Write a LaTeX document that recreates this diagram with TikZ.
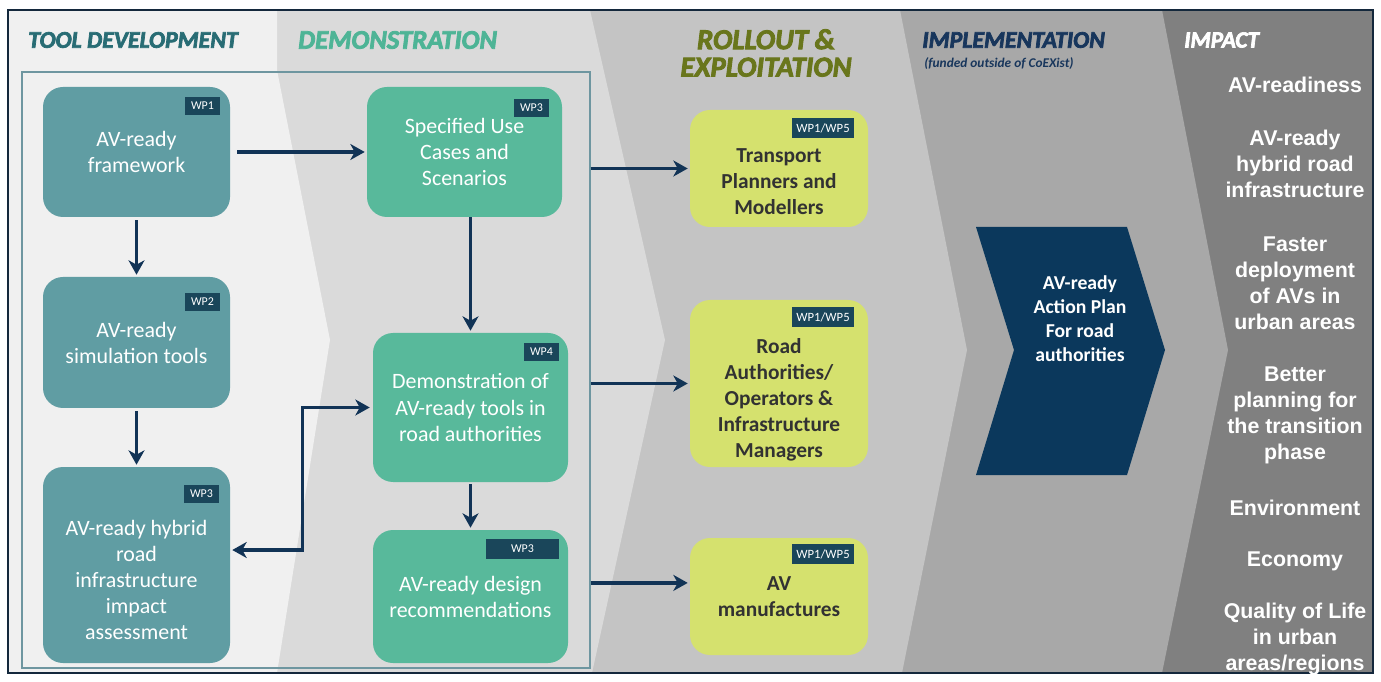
\documentclass[tikz,border=0pt]{standalone}
\usepackage{fontspec}
\setmainfont{Carlito}
\newfontfamily\headfont{Carlito}[FakeBold=3]
\newfontfamily\impactfont{Liberation Sans}
\usetikzlibrary{positioning,arrows.meta}

\definecolor{toolcol}{RGB}{96,157,163}
\definecolor{democol}{RGB}{88,185,155}
\definecolor{rollcol}{RGB}{213,225,110}
\definecolor{tagcol}{RGB}{26,70,90}
\definecolor{arrcol}{RGB}{17,51,86}
\definecolor{plancol}{RGB}{11,56,92}
\definecolor{toolhead}{RGB}{40,108,116}
\definecolor{demohead}{RGB}{78,180,150}
\definecolor{rollhead}{RGB}{105,118,28}
\definecolor{implhead}{RGB}{24,54,92}
\definecolor{rolltext}{RGB}{50,50,50}
\definecolor{bandA}{RGB}{240,240,240}
\definecolor{bandB}{RGB}{218,218,218}
\definecolor{bandC}{RGB}{196,196,196}
\definecolor{bandD}{RGB}{168,168,168}
\definecolor{bandE}{RGB}{128,128,128}
\definecolor{framecol}{RGB}{110,150,160}
\definecolor{bordercol}{RGB}{20,40,60}

\begin{document}
\begin{tikzpicture}[
  tool/.style  = {fill=toolcol, rounded corners=5mm, minimum width=46.75mm, text=white, align=center, font=\fontsize{15.6}{18.5}\selectfont},
  demo/.style  = {fill=democol, rounded corners=5mm, minimum width=48.75mm, text=white, align=center, font=\fontsize{15.6}{18.5}\selectfont},
  roll/.style  = {fill=rollcol, rounded corners=5mm, minimum width=44.5mm, text=rolltext, align=center, font=\fontsize{15.2}{18.5}\selectfont\bfseries},
  txt/.style   = {align=center, font=\fontsize{15.6}{18.5}\selectfont},
  tag/.style   = {fill=tagcol, text=white, anchor=north east, inner sep=0pt, minimum width=8.75mm, minimum height=4.5mm, font=\fontsize{8.5}{9}\selectfont},
  rtag/.style  = {tag, minimum width=15.5mm, minimum height=5mm, font=\fontsize{9}{9}\selectfont},
  head/.style  = {font=\headfont\fontsize{17}{19}\selectfont\bfseries\itshape, inner sep=0pt},
  impact/.style= {text=white, align=center, font=\impactfont\fontsize{15.2}{18.5}\selectfont\bfseries},
  arr/.style   = {-{Stealth[length=3.6mm, width=4mm, inset=1.1mm]}, line width=0.85mm, arrcol},
  dblarr/.style= {{Stealth[length=3.6mm, width=4mm, inset=1.1mm]}-{Stealth[length=3.6mm, width=4mm, inset=1.1mm]}, line width=0.85mm, arrcol},
  frame/.style = {draw=framecol, line width=0.35mm, minimum width=142mm, minimum height=149mm, inner sep=0pt}
]
\useasboundingbox (0,0) rectangle (345.25mm,170.25mm);

% ================= Phase bands =================
\fill[bandE] (2mm,2mm) rectangle (343.25mm,167.75mm);
\fill[bandD] (2mm,2mm) -- (2mm,167.75mm) -- (290.5mm,167.75mm) -- (307mm,82.75mm) -- (290.5mm,2mm) -- cycle;
\fill[bandC] (2mm,2mm) -- (2mm,167.75mm) -- (225mm,167.75mm) -- (241.75mm,82.75mm) -- (225.5mm,2mm) -- cycle;
\fill[bandB] (2mm,2mm) -- (2mm,167.75mm) -- (147.5mm,167.75mm) -- (166.25mm,85.25mm) -- (148mm,2mm) -- cycle;
\fill[bandA] (2mm,2mm) -- (2mm,167.75mm) -- (69.25mm,167.75mm) -- (69.25mm,152.75mm) -- (82.5mm,85.25mm) -- (69.25mm,2mm) -- cycle;
\draw[bordercol, line width=0.4mm] (2mm,2mm) rectangle (343.25mm,167.75mm);

% ================= Headers =================
\node[head, text=toolhead, anchor=west] (hTool) at (7mm,160.25mm) {TOOL DEVELOPMENT};
\node[head, text=demohead, anchor=west, font=\headfont\fontsize{19}{19}\selectfont\bfseries\itshape] (hDemo) at (74.5mm,160.25mm) {DEMONSTRATION};
\node[head, text=rollhead, align=center, font=\headfont\fontsize{20.5}{19.5}\selectfont\bfseries\itshape] (hRoll) at (191.5mm,157mm) {ROLLOUT \&\\EXPLOITATION};
\node[head, text=implhead, anchor=west] (hImpl) at (230.5mm,160.25mm) {IMPLEMENTATION};
\node[text=implhead, anchor=north west, inner sep=0pt, font=\fontsize{9.5}{10}\selectfont\bfseries\itshape] (hFund) at (231mm,156mm) {(funded outside of CoEXist)};
\node[head, text=white, anchor=west, font=\headfont\fontsize{16.5}{19}\selectfont\bfseries\itshape] (hImpact) at (296mm,160.25mm) {IMPACT};

% ================= Tool development + demonstration =================
\node[frame] (fr) at (76.5mm,77.75mm) {};

\node[tool, minimum height=32.5mm]  (B1) at (34.125mm,132.25mm) {AV-ready\\framework};
\node[tool, minimum height=32.75mm] (B2) at (34.125mm,84.625mm) {AV-ready\\simulation tools};
\node[tool, minimum height=49mm]    (B3) at (34.125mm,29mm) {};
\node[txt, text=white] (B3t) at ([yshift=-3.75mm]B3.center) {AV-ready hybrid\\road\\infrastructure\\impact\\assessment};

\node[demo, minimum height=32.5mm]  (D1) at (116.125mm,132.25mm) {Specified Use\\Cases and\\Scenarios};
\node[demo, minimum height=37.25mm] (D2) at (117.625mm,68.375mm) {Demonstration of\\AV-ready tools in\\road authorities};
\node[demo, minimum height=33.25mm] (D3) at (117.625mm,21.125mm) {AV-ready design\\recommendations};

\node[tag] (tB1) at ([xshift=-2.5mm,yshift=-2.5mm]B1.north east) {WP1};
\node[tag] (tB2) at ([xshift=-2.5mm,yshift=-4mm]B2.north east) {WP2};
\node[tag] (tB3) at ([xshift=-2.75mm,yshift=-4.5mm]B3.north east) {WP3};
\node[tag] (tD1) at ([xshift=-3.25mm,yshift=-3mm]D1.north east) {WP3};
\node[tag] (tD2) at ([xshift=-2.25mm,yshift=-2.5mm]D2.north east) {WP4};
\node[tag, minimum width=18.25mm, minimum height=5mm] (tD3) at ([xshift=-2.25mm,yshift=-2.25mm]D3.north east) {WP3};

\draw[arr, shorten <=1.75mm, shorten >=0.5mm] (B1) -- (D1);
\draw[arr, shorten <=0.75mm, shorten >=0.5mm] (B1) -- (B2);
\draw[arr, shorten <=0.75mm, shorten >=0.5mm] (B2) -- (B3);
\draw[arr, shorten >=0.5mm] (D2.north |- D1.south) -- (D2.north);
\draw[arr, shorten <=0.5mm, shorten >=0.5mm] (D2) -- (D3);
\draw[dblarr, shorten <=0.5mm, shorten >=0.75mm] ([yshift=3.75mm]B3.east) -- ++(18mm,0) |- (D2.west);

% ================= Rollout & exploitation =================
\node[roll, minimum height=29.25mm] (R1) at (194.75mm,128.125mm) {};
\node[txt, text=rolltext, font=\fontsize{15.2}{18.5}\selectfont\bfseries] (R1t) at ([yshift=-3.4mm]R1.center) {Transport\\Planners and\\Modellers};
\node[roll, minimum height=41.75mm] (R2) at (194.75mm,74.375mm) {};
\node[txt, text=rolltext, font=\fontsize{15.2}{18.5}\selectfont\bfseries] (R2t) at ([yshift=-4mm]R2.center) {Road\\Authorities/\\Operators \&\\Infrastructure\\Managers};
\node[roll, minimum height=29.25mm] (R3) at (194.75mm,21.125mm) {AV\\manufactures};
\coordinate (R3in) at ([yshift=3.4mm]R3.west);

\node[rtag] (tR1) at ([xshift=-3.5mm,yshift=-2mm]R1.north east) {WP1/WP5};
\node[rtag] (tR2) at ([xshift=-3.5mm,yshift=-1.75mm]R2.north east) {WP1/WP5};
\node[rtag] (tR3) at ([xshift=-3.5mm,yshift=-1.5mm]R3.north east) {WP1/WP5};

\draw[arr, shorten >=0.5mm] (fr.east |- R1.west) -- (R1.west);
\draw[arr, shorten >=0.5mm] (fr.east |- R2.west) -- (R2.west);
\draw[arr, shorten >=0.5mm] (fr.east |- R3in) -- (R3in);

% ================= Implementation =================
\fill[plancol] (244mm,113.5mm) -- (281.75mm,113.5mm) -- (291.25mm,82.75mm) -- (281.75mm,51.5mm) -- (244mm,51.5mm) -- (253.5mm,82.75mm) -- cycle;
\node[text=white, align=center, font=\fontsize{14}{17}\selectfont\bfseries] (plan) at (270mm,90.5mm) {AV-ready\\Action Plan\\For road\\authorities};

% ================= Impact =================
\node[impact] (i1) at (323.75mm,149mm)    {AV-readiness};
\node[impact] (i2) at (323.75mm,129.25mm) {AV-ready\\hybrid road\\infrastructure};
\node[impact] (i3) at (323.75mm,99.5mm)   {Faster\\deployment\\of AVs in\\urban areas};
\node[impact] (i4) at (323.75mm,66.5mm)   {Better\\planning for\\the transition\\phase};
\node[impact] (i5) at (323.75mm,43.25mm)  {Environment};
\node[impact] (i6) at (323.75mm,30mm)     {Economy};
\node[impact] (i7) at (323.75mm,10.5mm)   {Quality of Life\\in urban\\areas/regions};

\end{tikzpicture}
\end{document}
